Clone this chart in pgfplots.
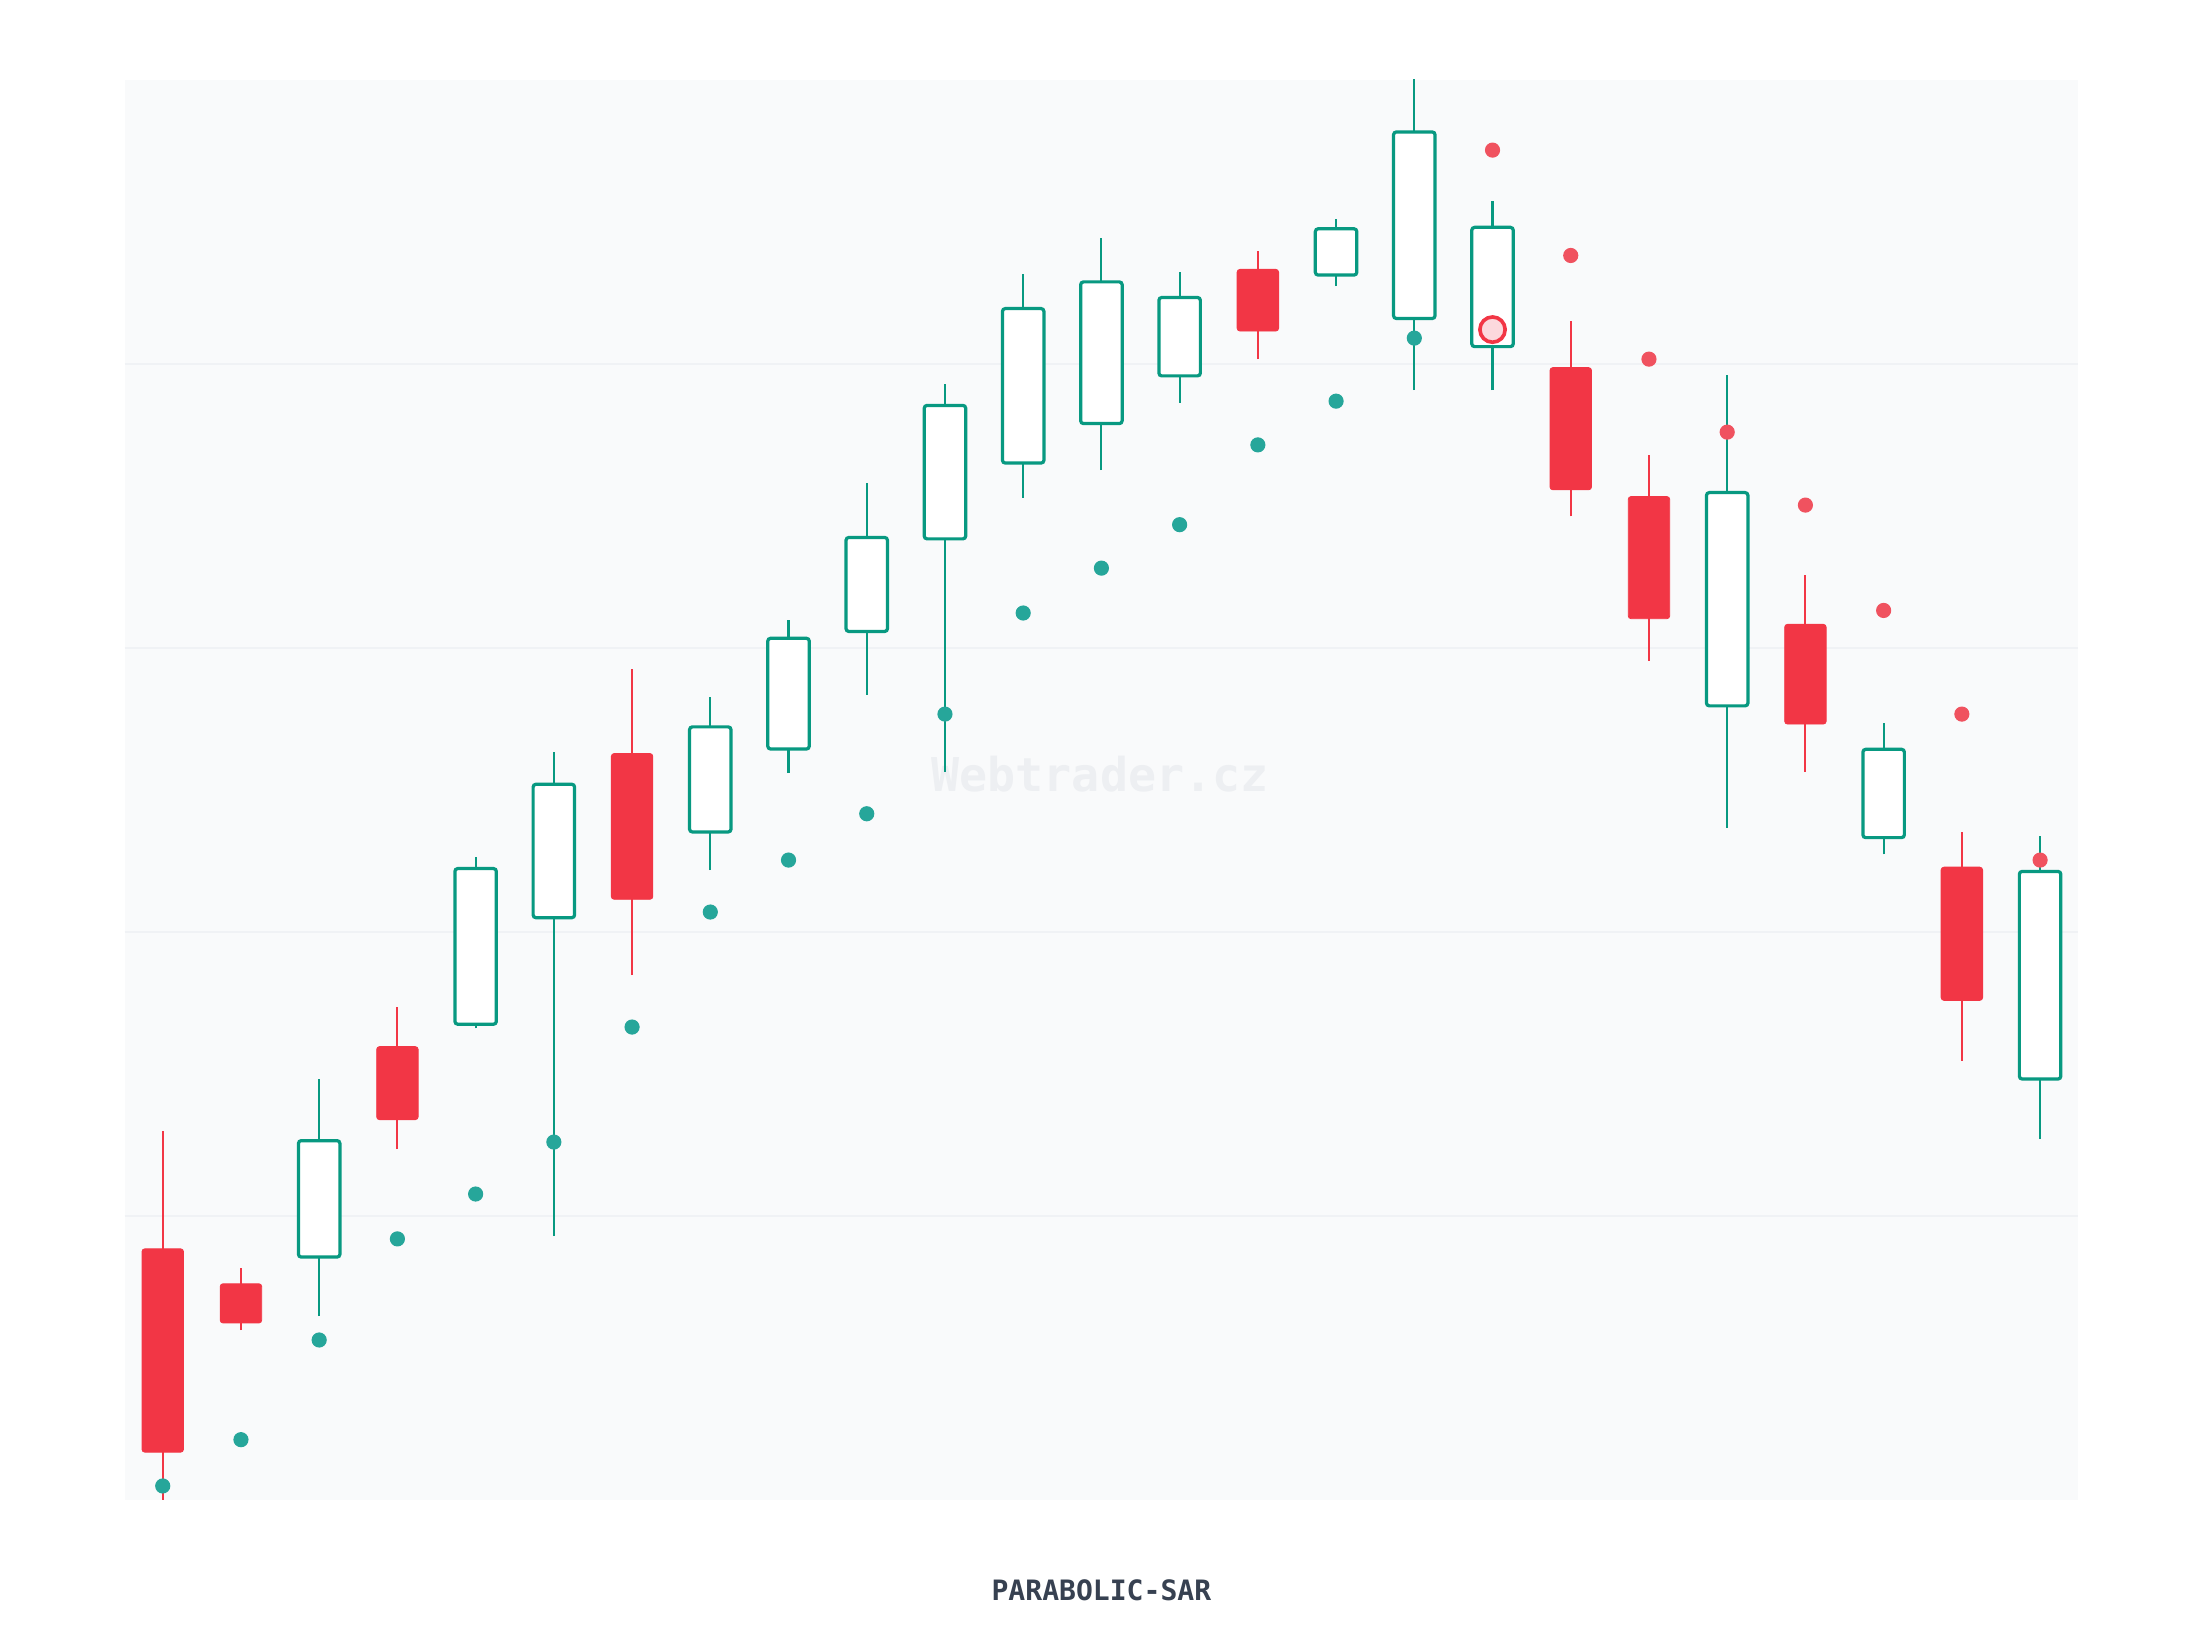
\documentclass[border=0pt]{standalone}
\usepackage{pgfplots}
\pgfplotsset{compat=1.18}
\usepackage{pgfplotstable}
\usepackage{fontspec}
\newfontfamily\monofont{DejaVu Sans Mono}

\definecolor{up}{HTML}{089981}
\definecolor{down}{HTML}{F23645}
\definecolor{sarup}{HTML}{26A69A}
\definecolor{sardown}{HTML}{F0525F}
\definecolor{panel}{HTML}{F9FAFB}
\definecolor{gridc}{HTML}{F0F2F5}
\definecolor{wmark}{HTML}{EDEFF2}
\definecolor{titlec}{HTML}{374151}
\definecolor{flipfill}{HTML}{FCD9DD}

% i open high low close
\pgfplotstableread{
i o h l c
0  88.4 129.9  -3.0  16.8
1  76.1  81.5  59.8  62.3
2  85.5 148.2  64.7 126.5
3 159.6 173.4 123.5 133.9
4 167.5 226.3 166.0 222.3
5 205.0 263.3  92.9 252.0
6 262.8 292.5 184.8 211.5
7 235.2 282.6 221.8 272.2
8 264.4 309.8 255.9 303.4
9 305.8 358.2 283.6 338.9
10 338.4 392.8 256.4 385.4
11 365.1 431.8 352.8 419.5
12 379.0 444.2 362.6 428.9
13 395.8 432.3 386.4 423.4
14 433.3 439.7 401.7 411.6
15 431.3 451.1 427.4 447.6
16 416.0 503.0 390.8 481.7
17 406.1 457.5 390.8 448.1
18 398.7 415.0 346.3 355.7
19 353.3 368.1 295.5 310.3
20 279.6 396.2 236.7 354.7
21 308.3 325.6 256.4 273.2
22 233.2 273.7 227.3 264.3
23 222.8 235.2 154.6 175.9
24 148.2 233.7 127.0 221.3
}\candles

% SAR below price (long)
\pgfplotstableread{
i sar
0 4.9
1 21.2
2 56.3
3 91.9
4 107.7
5 126.0
6 166.5
7 207.0
8 225.3
9 241.6
10 276.7
11 312.3
12 328.1
13 343.4
14 371.5
15 386.9
16 409.1
}\sarlong

% SAR above price (short)
\pgfplotstableread{
i sar
17 475.3
18 438.2
19 401.7
20 376.0
21 350.3
22 313.2
23 276.7
24 225.3
}\sarshort

\begin{document}
\begin{tikzpicture}
\fill[white] (-44.5pt,-49.5pt) rectangle (739.5pt,534.5pt);
\path[use as bounding box] (-44.5pt,-49.5pt) rectangle (739.5pt,534.5pt);
\begin{axis}[name=ax, at={(0,0)}, anchor=south west,
    scale only axis, width=696pt, height=506pt,
    xmin=-0.484, xmax=24.484, ymin=0, ymax=500,
    axis line style={draw=none},
    xtick=\empty, ytick={100,200,300,400}, yticklabels={,,,},
    major tick length=0pt,
    ymajorgrids, grid style={gridc, line width=0.5pt},
    axis background/.style={fill=panel}]

  \node[anchor=base, font=\monofont\bfseries\fontsize{16.6}{18}\selectfont, text=wmark]
    at (rel axis cs:0.4993,0.4992) {Webtrader.cz};

  \pgfplotsinvokeforeach{0,...,24}{
    \pgfplotstablegetelem{#1}{o}\of\candles \let\co\pgfplotsretval
    \pgfplotstablegetelem{#1}{h}\of\candles \let\ch\pgfplotsretval
    \pgfplotstablegetelem{#1}{l}\of\candles \let\cl\pgfplotsretval
    \pgfplotstablegetelem{#1}{c}\of\candles \let\cc\pgfplotsretval
    \pgfmathsetmacro\xa{#1-0.265}
    \pgfmathsetmacro\xb{#1+0.265}
    \pgfmathtruncatemacro\isup{\cc>\co}
    \edef\doit{%
      \noexpand\addplot[\ifnum\isup=1 up\else down\fi, line width=0.75pt]
        coordinates {(#1,\cl) (#1,\ch)};
      \noexpand\addplot[\ifnum\isup=1 draw=up, fill=white, line width=1.15pt\else draw=down, fill=down, line width=0.3pt\fi, rounded corners=1pt]
        coordinates {(\xa,\co) (\xb,\co) (\xb,\cc) (\xa,\cc)} --cycle;
    }\doit
  }

  \addplot[only marks, color=sarup, mark=*, mark size=2.5pt]
    table[x=i, y=sar] {\sarlong};
  \addplot[only marks, color=sardown, mark=*, mark size=2.5pt]
    table[x=i, y=sar] {\sarshort};
  % trend flip
  \addplot[only marks, color=down, mark=*, mark size=4.5pt,
    mark options={draw=down, fill=flipfill, line width=1.3pt}]
    coordinates {(17,412.1)};
\end{axis}
\node[anchor=base, font=\monofont\bfseries\fontsize{10}{12}\selectfont, text=titlec]
  at ([yshift=-36pt]ax.south) {PARABOLIC-SAR};
\end{tikzpicture}
\end{document}
